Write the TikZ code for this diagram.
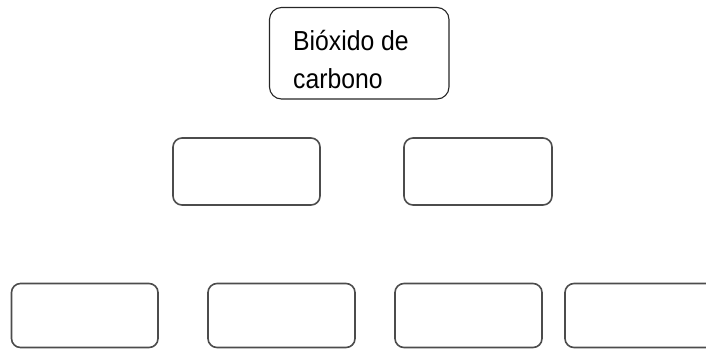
\documentclass[tikz,border=0pt]{standalone}
\usepackage{fontspec}
\setmainfont{Liberation Sans}[FakeStretch=0.9]
\begin{document}
\begin{tikzpicture}[x=1pt,y=-1pt,
  topbox/.style={draw=black!85,line width=1.1pt,rounded corners=12pt},
  emptybox/.style={draw=black!70,line width=1.6pt,rounded corners=9pt},
  lbl/.style={anchor=base west,inner sep=0pt,font=\fontsize{27.5}{38}\selectfont}]
\useasboundingbox (0,0) rectangle (706,349);
\draw[topbox] (269.5,7.5) rectangle (449,99);
\node[lbl] (t1) at (293,50) {Bióxido de};
\node[lbl] (t2) at (293,88) {carbono};
\draw[emptybox] (173,138) rectangle (320,205);
\draw[emptybox] (404,138) rectangle (552,205);
\draw[emptybox] (11.5,283.5) rectangle (158,347.5);
\draw[emptybox] (208,283.5) rectangle (355,347.5);
\draw[emptybox] (395,283.5) rectangle (542,347.5);
\draw[emptybox] (565,283.5) rectangle (720,347.5);
\end{tikzpicture}
\end{document}
